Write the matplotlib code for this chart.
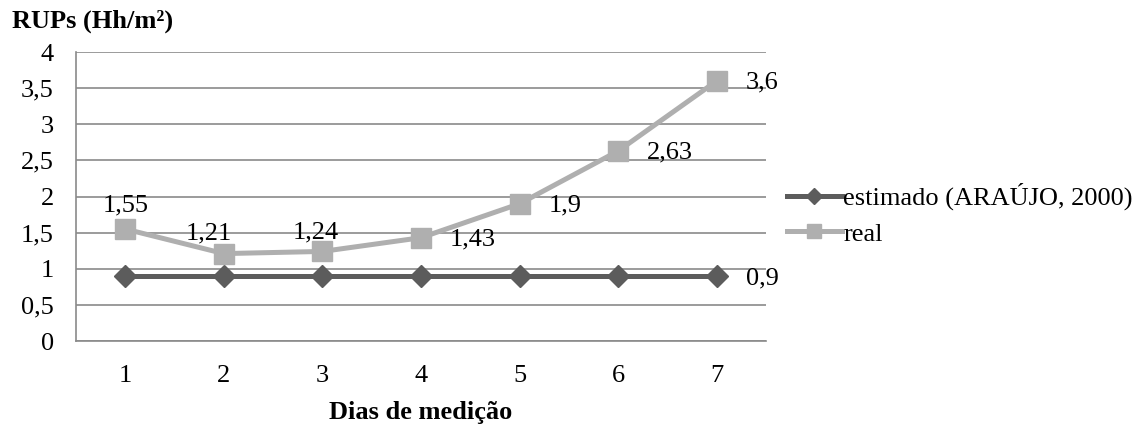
import matplotlib.pyplot as plt
from matplotlib.ticker import FuncFormatter

plt.rcParams['font.family'] = ['Liberation Serif', 'DejaVu Serif']

# data
dias = [1, 2, 3, 4, 5, 6, 7]
estimado = [0.9, 0.9, 0.9, 0.9, 0.9, 0.9, 0.9]
real = [1.55, 1.21, 1.24, 1.43, 1.9, 2.63, 3.6]
nome_est = 'estimado (ARAÚJO, 2000)'
nome_real = 'real'

def virgula(v):
    s = ('%g' % v)
    return s.replace('.', ',')

fs = 19
fig = plt.figure(figsize=(11.46, 4.25), dpi=100)
ax = fig.add_axes([0.0663, 0.1976, 0.6021, 0.68])

c_est = '#5c5c5c'
c_real = '#afafaf'
ax.plot(dias, estimado, color=c_est, lw=3.6, marker='D', ms=11, label=nome_est, zorder=3)
ax.plot(dias, real, color=c_real, lw=3.6, marker='s', ms=14, label=nome_real, zorder=4)

# data labels (first three above the point, the rest to the right)
desl_acima = [(0, 13), (-11, 10), (-5, 9)]
for x, v in zip(dias, real):
    if x <= 3:
        dx, dy = desl_acima[x - 1]
        ax.annotate(virgula(v), (x, v), xytext=(dx, dy), textcoords='offset points',
                    ha='center', va='baseline', fontsize=fs)
    else:
        ax.annotate(virgula(v), (x, v), xytext=(21, -1), textcoords='offset points',
                    ha='left', va='center', fontsize=fs)
ax.annotate(virgula(estimado[-1]), (dias[-1], estimado[-1]), xytext=(21, -2),
            textcoords='offset points', ha='left', va='center', fontsize=fs)

ax.set_xlim(0.5, 7.5)
ax.set_ylim(0, 4)
ax.set_yticks([0, 0.5, 1, 1.5, 2, 2.5, 3, 3.5, 4])
ax.set_xticks(dias)
ax.yaxis.set_major_formatter(FuncFormatter(lambda v, p: virgula(v)))
ax.tick_params(axis='both', length=0, labelsize=fs)
ax.tick_params(axis='y', pad=16)
ax.tick_params(axis='x', pad=17)
ax.grid(axis='y', color='#8a8a8a', lw=1.2)
ax.set_axisbelow(True)
for s in ['top', 'right']:
    ax.spines[s].set_visible(False)
for s in ['left', 'bottom']:
    ax.spines[s].set_color('#8a8a8a')
    ax.spines[s].set_linewidth(1.2)

ax.set_xlabel('Dias de medição', fontsize=fs, fontweight='bold', labelpad=10)
fig.text(12 / 1146, 0.936, 'RUPs (Hh/m²)', fontsize=fs, fontweight='bold', ha='left', va='baseline')

leg = ax.legend(loc='center left', bbox_to_anchor=(1.030, 0.439), frameon=False, fontsize=fs,
                handlelength=2.1, handletextpad=0.05, labelspacing=0.45, borderaxespad=0,
                borderpad=0, markerscale=0.75)

fig.savefig('out.png', dpi=100)
